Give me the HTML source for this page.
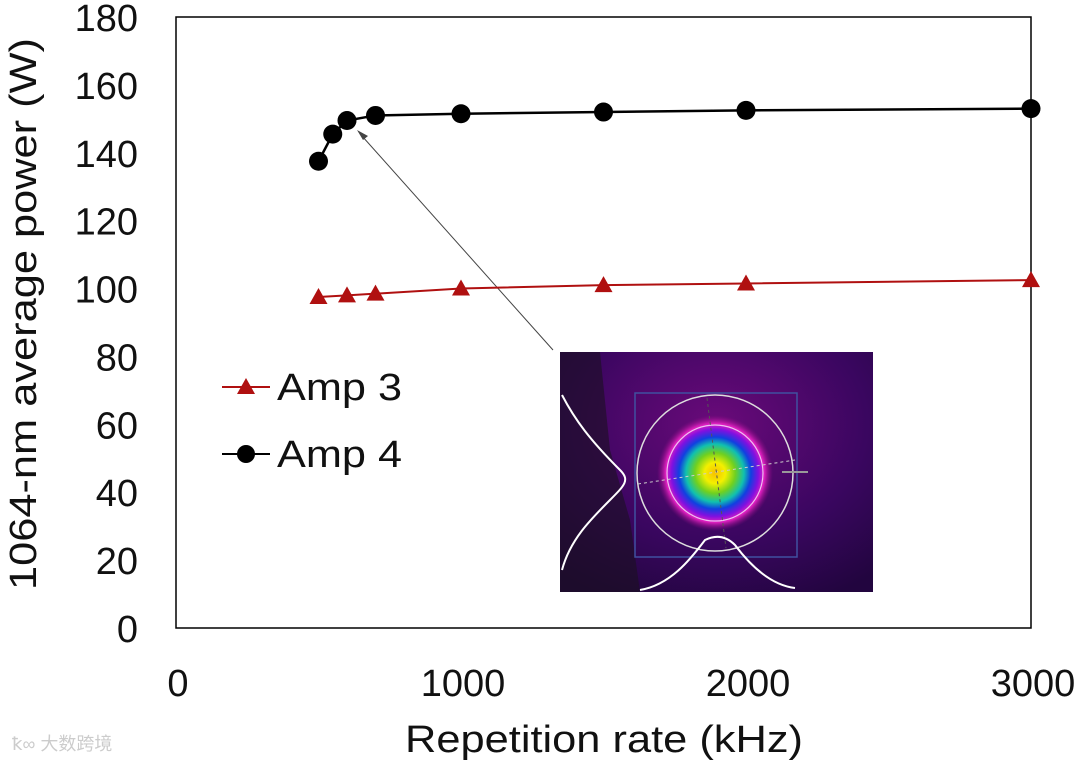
<!DOCTYPE html>
<html><head><meta charset="utf-8"><style>
body{margin:0;background:#fff;width:1080px;height:764px;overflow:hidden}
svg text{font-family:"Liberation Sans","Noto Sans CJK SC",sans-serif}
</style></head><body>
<svg id="chart" width="1080" height="764" viewBox="0 0 1080 764" xmlns="http://www.w3.org/2000/svg">
<defs>
<radialGradient id="bg" cx="0.5" cy="0.3" r="0.8">
<stop offset="0" stop-color="#6a0a7a"/><stop offset="0.6" stop-color="#3a0660"/><stop offset="1" stop-color="#22053f"/>
</radialGradient>
<radialGradient id="beam" cx="0.5" cy="0.5" r="0.5">
<stop offset="0" stop-color="#f7c000"/><stop offset="0.18" stop-color="#f3f000"/><stop offset="0.35" stop-color="#70d020"/>
<stop offset="0.5" stop-color="#10c0b0"/><stop offset="0.62" stop-color="#1040e0"/><stop offset="0.75" stop-color="#8010e0"/>
<stop offset="0.85" stop-color="#e020c0"/><stop offset="1" stop-color="#8a0a80" stop-opacity="0"/>
</radialGradient>
</defs>
<rect x="176" y="17" width="855" height="611" fill="#fff" stroke="#000" stroke-width="1.5"/>
<g id="yticks"></g>
<g id="xticks"></g>
<text transform="translate(36,314) rotate(-90)" text-anchor="middle" font-size="38" textLength="552" lengthAdjust="spacingAndGlyphs" fill="#111">1064-nm average power (W)</text>
<text x="604" y="752" text-anchor="middle" font-size="38" textLength="398" lengthAdjust="spacingAndGlyphs" fill="#111">Repetition rate (kHz)</text>
<g>
<rect x="560" y="352" width="313" height="240" fill="url(#bg)"/>
<path d="M560,352 L600,352 L610,450 L630,520 L640,592 L560,592 Z" fill="#1a1020" opacity="0.6"/>
<circle cx="715" cy="473" r="78" fill="none" stroke="#ddd" stroke-width="1.5"/>
<circle cx="715" cy="473" r="58" fill="url(#beam)"/>
<circle cx="715" cy="473" r="48" fill="none" stroke="#f0c0f0" stroke-width="1.2"/>
<rect x="635" y="393" width="162" height="164" fill="none" stroke="#4050a0" stroke-width="1.5"/>
<line x1="638" y1="484" x2="795" y2="460" stroke="#ccc" stroke-dasharray="3,3"/>
<line x1="707" y1="398" x2="726" y2="548" stroke="#555" stroke-dasharray="3,3"/>
<line x1="782" y1="472" x2="808" y2="472" stroke="#999" stroke-width="2"/>
<path d="M562,395 C575,420 590,440 620,470 C630,480 625,485 610,500 C590,520 570,540 562,570" fill="none" stroke="#fff" stroke-width="2"/>
<path d="M640,590 C670,585 690,560 705,540 C715,535 725,535 735,545 C750,565 770,585 795,588" fill="none" stroke="#fff" stroke-width="2"/>
</g>
<line x1="553" y1="350" x2="362" y2="136" stroke="#444" stroke-width="1"/>
<path d="M357,130 L368,136 L363,140 Z" fill="#444"/>
<g id="series3"></g>
<g id="series4"></g>
<g>
<g>
<line x1="222" y1="387" x2="270" y2="387" stroke="#b01010" stroke-width="2"/>
<path d="M246,378 L255,394 L237,394 Z" fill="#b01010"/>
<text x="277" y="400" font-size="38" textLength="125" lengthAdjust="spacingAndGlyphs" fill="#111">Amp 3</text></g>
<g>
<line x1="222" y1="454" x2="270" y2="454" stroke="#000" stroke-width="2"/>
<circle cx="246" cy="454" r="9" fill="#000"/>
<text x="277" y="467" font-size="38" textLength="125" lengthAdjust="spacingAndGlyphs" fill="#111">Amp 4</text></g>
</g>
<text x="12" y="750" font-size="18" fill="#ccc">ꝁ∞ 大数跨境</text>
</svg>
<script>
const xs3=[500,600,700,1000,1500,2000,3000];
const amp3=[97.5,98,98.5,100,101,101.5,102.5];
const xs4=[500,550,600,700,1000,1500,2000,3000];
const amp4=[137.5,145.5,149.5,151,151.5,152,152.5,153];
const yTicks=[0,20,40,60,80,100,120,140,160,180];
const xTicks=[0,1000,2000,3000];
const NS="http://www.w3.org/2000/svg";
function X(v){return 176+v*(1031-176)/3000;}
function Y(v){return 628-v*(628-17)/180;}
function mk(t,a,p){const e=document.createElementNS(NS,t);for(const k in a)e.setAttribute(k,a[k]);p.appendChild(e);return e;}
const yg=document.getElementById('yticks');
yTicks.forEach(v=>{const t=mk('text',{x:138,y:Y(v)+14,'text-anchor':'end','font-size':'38',fill:'#111'},yg);


t.textContent=v;});
const xg=document.getElementById('xticks');
xTicks.forEach(v=>{const t=mk('text',{x:X(v)+2,y:696,'text-anchor':'middle','font-size':'38',fill:'#111'},xg);


t.textContent=v;});
const s3=document.getElementById('series3');
const l3=mk('polyline',{points:xs3.map((x,i)=>X(x)+','+Y(amp3[i])).join(' '),fill:'none',stroke:'#b01010','stroke-width':2},s3);


xs3.forEach((x,i)=>{const cx=X(x),cy=Y(amp3[i]);
const p=mk('path',{d:`M${cx},${cy-9} L${cx+9},${cy+7} L${cx-9},${cy+7} Z`,fill:'#b01010'},s3);

});
const s4=document.getElementById('series4');
const l4=mk('polyline',{points:xs4.map((x,i)=>X(x)+','+Y(amp4[i])).join(' '),fill:'none',stroke:'#000','stroke-width':2.5},s4);


xs4.forEach((x,i)=>{const c=mk('circle',{cx:X(x),cy:Y(amp4[i]),r:9.5,fill:'#000'},s4);

});
</script>
</body></html>
